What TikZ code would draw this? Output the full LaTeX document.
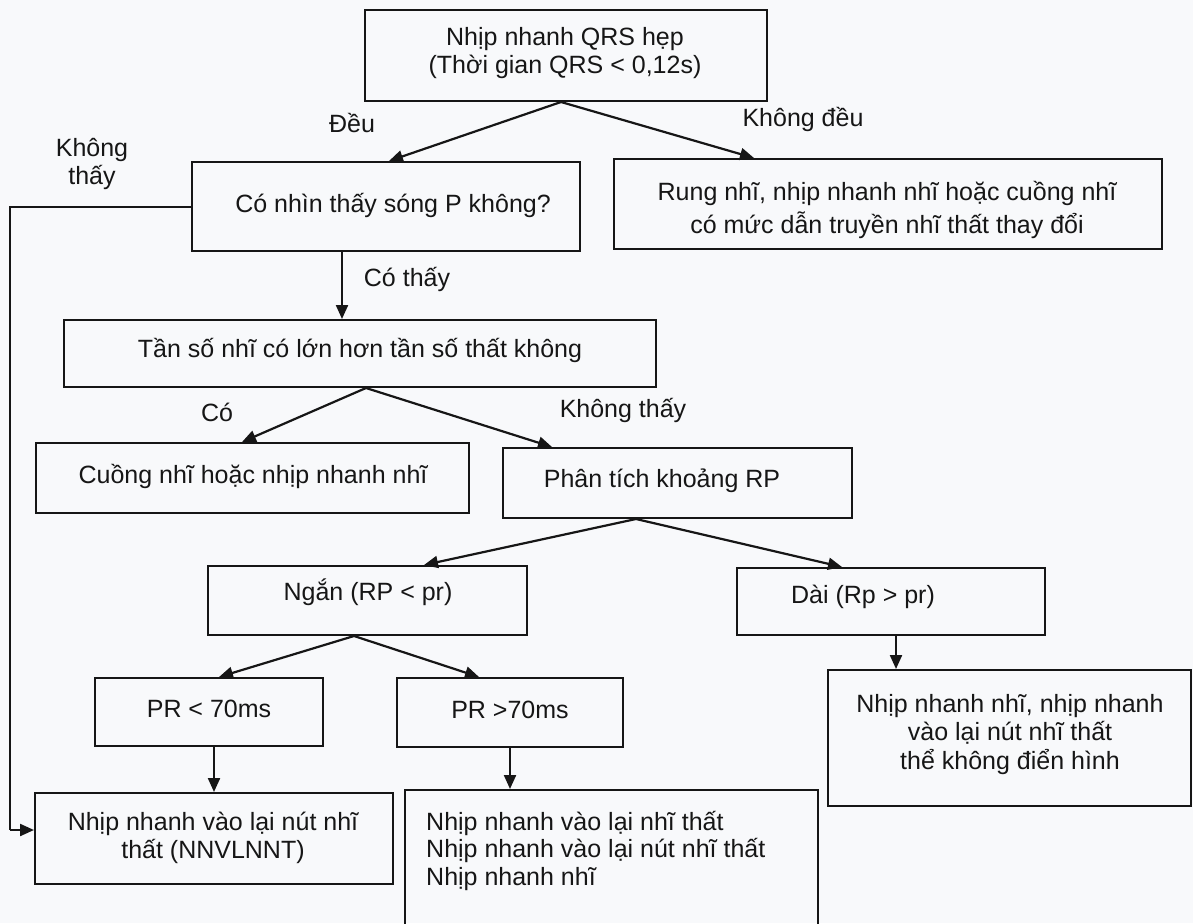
\documentclass[tikz,border=0pt]{standalone}
\usepackage{fontspec}
\setmainfont{Liberation Sans}
\usetikzlibrary{arrows.meta,calc}
\definecolor{paper}{RGB}{248,249,251}
\definecolor{ink}{RGB}{22,22,22}
\begin{document}
\begin{tikzpicture}[x=1pt,y=-1pt,
  box/.style={draw=ink,line width=2pt,inner sep=0pt,rectangle},
  % the reference point of a text node is the visual middle of its last line
  txt/.style={font=\fontsize{25}{28}\selectfont,text=ink,inner sep=0pt,
    align=center,text height=18pt,text depth=0pt},
  arr/.style={draw=ink,line width=2.2pt,-{Triangle[length=14pt,width=12pt]}},
  wire/.style={draw=ink,line width=2pt}]
\fill[paper] (0,0) rectangle (1193,923);
\useasboundingbox (0,0) rectangle (1193,923);

% boxes
\node[box,minimum width=402pt,minimum height=91pt] (top)  at (566,55.5)  {};
\node[box,minimum width=388pt,minimum height=89pt] (cnt)  at (386,206.5) {};
\node[box,minimum width=548pt,minimum height=90pt] (rung) at (888,204)   {};
\node[box,minimum width=592pt,minimum height=67pt] (tanso) at (360,353.5) {};
\node[box,minimum width=433pt,minimum height=70pt] (cuong) at (252.5,478) {};
\node[box,minimum width=349pt,minimum height=70pt] (phan) at (677.5,483)  {};
\node[box,minimum width=319pt,minimum height=69pt] (ngan) at (367.5,600.5) {};
\node[box,minimum width=308pt,minimum height=67pt] (dai)  at (891,601.5)  {};
\node[box,minimum width=228pt,minimum height=68pt] (prlt) at (209,712)    {};
\node[box,minimum width=226pt,minimum height=69pt] (prgt) at (510,712.5)  {};
\node[box,minimum width=363pt,minimum height=136pt] (daires) at (1009.5,738) {};
\node[box,minimum width=358pt,minimum height=91pt] (nnvl) at (214,838.5)  {};
\node[box,minimum width=413pt,minimum height=140pt] (prgtres) at (611.5,860) {};

% box texts
\node[txt] (toptext) at (565,65) {Nhịp nhanh QRS hẹp\\(Thời gian QRS < 0,12s)};
\node[txt] (cnttext) at (393,203) {Có nhìn thấy sóng P không?};
\node[txt,font=\fontsize{25}{33}\selectfont] (rungtext) at (887,224)
  {Rung nhĩ, nhịp nhanh nhĩ hoặc cuồng nhĩ\\có mức dẫn truyền nhĩ thất thay đổi};
\node[txt] (tansotext) at (360,348) {Tần số nhĩ có lớn hơn tần số thất không};
\node[txt] (cuongtext) at (253,474) {Cuồng nhĩ hoặc nhịp nhanh nhĩ};
\node[txt] (phantext) at (662,478) {Phân tích khoảng RP};
\node[txt] (ngantext) at (368,591) {Ngắn (RP < pr)};
\node[txt] (daitext) at (863,594) {Dài (Rp > pr)};
\node[txt] (prlttext) at (209,708) {PR < 70ms};
\node[txt] (prgttext) at (510,709) {PR >70ms};
\node[txt,font=\fontsize{25}{28.5}\selectfont] (dairestext) at (1010,760)
  {Nhịp nhanh nhĩ, nhịp nhanh\\vào lại nút nhĩ thất\\thể không điển hình};
\node[txt] (nnvltext) at (213,849) {Nhịp nhanh vào lại nút nhĩ\\thất (NNVLNNT)};
\node[txt,align=left,anchor=west,font=\fontsize{25}{27.5}\selectfont]
  (prgtrestext) at (426,876)
  {Nhịp nhanh vào lại nhĩ thất\\Nhịp nhanh vào lại nút nhĩ thất\\Nhịp nhanh nhĩ};

% branch labels
\node[txt] (ldeu) at (352,123) {Đều};
\node[txt] (lkdeu) at (803,118) {Không đều};
\node[txt] (lkthay) at (92,175) {Không\\thấy};
\node[txt] (lcothay) at (407,277) {Có thấy};
\node[txt] (lco) at (217,412) {Có};
\node[txt] (lkthay2) at (623,408) {Không thấy};

% connectors
\draw[arr] ($(top.south west)+(197,0)$) -- ($(cnt.north west)+(198,0)$);
\draw[arr] ($(top.south west)+(197,0)$) -- ($(rung.north west)+(141,0)$);
\draw[arr] ($(cnt.south west)+(151,0)$) -- ($(tanso.north west)+(279,0)$);
\coordinate (bend1) at (10,206.5);
\coordinate (bend2) at (10,830);
\draw[wire] (cnt.west) -- (bend1) -- (bend2);
\draw[arr] (bend2) -- (bend2 -| nnvl.west);
\draw[arr] ($(tanso.south west)+(303,0)$) -- ($(cuong.north west)+(207,0)$);
\draw[arr] ($(tanso.south west)+(303,0)$) -- ($(phan.north west)+(50,0)$);
\draw[arr] ($(phan.south west)+(134,0)$) -- ($(ngan.north west)+(217,0)$);
\draw[arr] ($(phan.south west)+(134,0)$) -- ($(dai.north west)+(106,0)$);
\draw[arr] ($(ngan.south west)+(147,0)$) -- ($(prlt.north west)+(125,0)$);
\draw[arr] ($(ngan.south west)+(147,0)$) -- ($(prgt.north west)+(83,0)$);
\draw[arr] ($(prlt.south west)+(120,0)$) -- ($(nnvl.north west)+(180,0)$);
\draw[arr] ($(prgt.south west)+(114,0)$) -- ($(prgtres.north west)+(106,0)$);
\draw[arr] ($(dai.south west)+(160,0)$) -- ($(daires.north west)+(69,0)$);
\end{tikzpicture}
\end{document}
